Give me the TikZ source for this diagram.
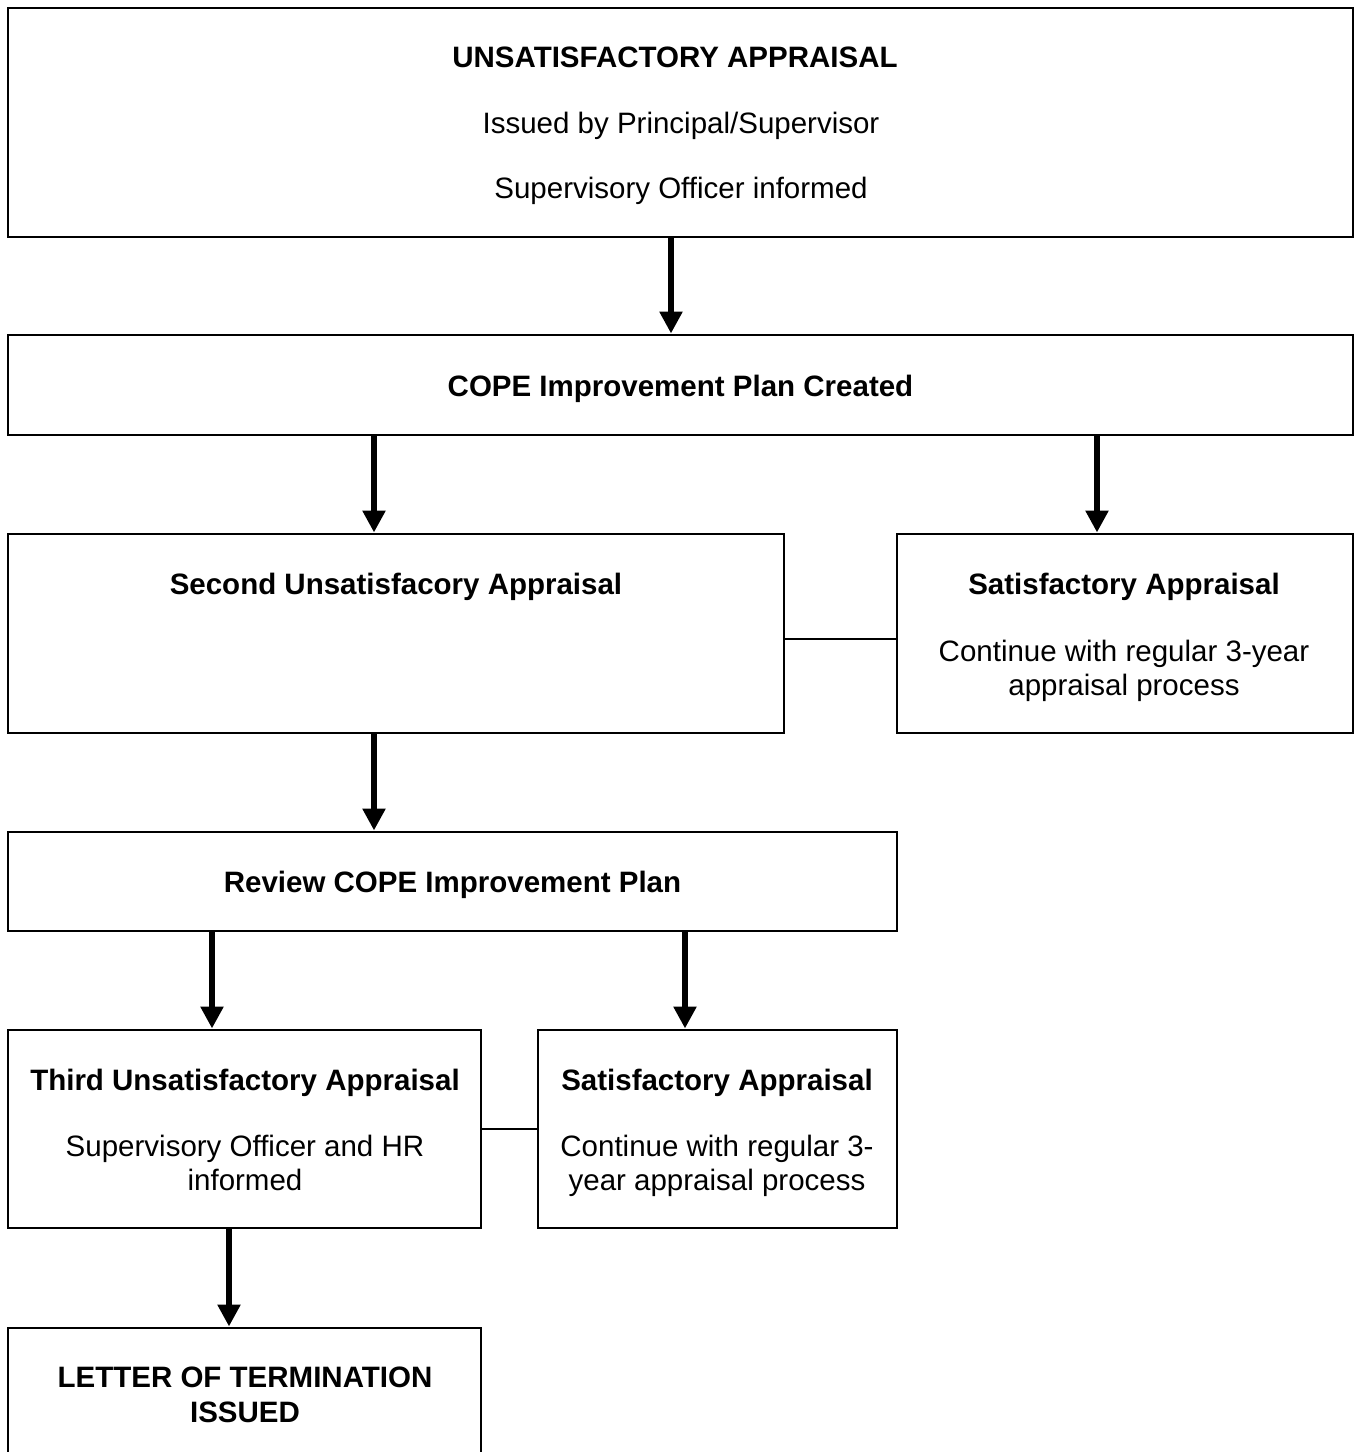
\documentclass[tikz,border=0pt]{standalone}
\usepackage{fontspec}
\setmainfont{Liberation Sans}
\usetikzlibrary{arrows.meta}
\begin{document}
\begin{tikzpicture}[x=1pt,y=-1pt,
  box/.style={draw=black,line width=2.6pt,rectangle,inner sep=0pt,outer sep=0pt},
  txt/.style={anchor=base,inner sep=0pt,font=\fontsize{29.5}{34}\selectfont},
  btxt/.style={txt,font=\fontsize{29.5}{34}\selectfont\bfseries},
  arr/.style={line width=6pt,-{Triangle[width=22pt,length=22pt]},shorten >=1.5pt},
  link/.style={line width=2.4pt}]
\useasboundingbox (0,0) rectangle (1356,1452);
% boxes
\node[box,minimum width=1345pt,minimum height=229pt] (top) at (680.5,122.5) {};
\node[box,minimum width=1345pt,minimum height=100pt] (cope) at (680.5,385) {};
\node[box,minimum width=776pt,minimum height=199pt] (second) at (396,633.5) {};
\node[box,minimum width=456pt,minimum height=199pt] (sat1) at (1125,633.5) {};
\node[box,minimum width=889pt,minimum height=99pt] (review) at (452.5,881.5) {};
\node[box,minimum width=473pt,minimum height=198pt] (third) at (244.5,1129) {};
\node[box,minimum width=359pt,minimum height=198pt] (sat2) at (717.5,1129) {};
\node[box,minimum width=473pt,minimum height=142pt] (letter) at (244.5,1399) {};
% texts
\node[btxt] (t1) at (675,67) {UNSATISFACTORY APPRAISAL};
\node[txt] (t2) at (681,133) {Issued by Principal/Supervisor};
\node[txt] (t3) at (681,198) {Supervisory Officer informed};
\node[btxt] (t4) at (680.5,396) {COPE Improvement Plan Created};
\node[btxt] (t5) at (396,594) {Second Unsatisfacory Appraisal};
\node[btxt] (t6) at (1124,594) {Satisfactory Appraisal};
\node[txt] (t7) at (1124,661) {Continue with regular 3-year};
\node[txt] (t8) at (1124,695) {appraisal process};
\node[btxt] (t9) at (452.5,892) {Review COPE Improvement Plan};
\node[btxt] (t10) at (245,1090) {Third Unsatisfactory Appraisal};
\node[txt] (t11) at (245,1156) {Supervisory Officer and HR};
\node[txt] (t12) at (245,1190) {informed};
\node[btxt] (t13) at (717,1090) {Satisfactory Appraisal};
\node[txt] (t14) at (717,1156) {Continue with regular 3-};
\node[txt] (t15) at (717,1190) {year appraisal process};
\node[btxt] (t16) at (245,1387) {LETTER OF TERMINATION};
\node[btxt] (t17) at (245,1422) {ISSUED};
% arrow x positions
\coordinate (x1) at (671,0);
\coordinate (x2) at (374,0);
\coordinate (x3) at (1097,0);
\coordinate (x5) at (212,0);
\coordinate (x6) at (685,0);
\coordinate (x7) at (229,0);
\coordinate (y1) at (0,639);
% arrows
\draw[arr] (top.south -| x1) -- (cope.north -| x1);
\draw[arr] (cope.south -| x2) -- (second.north -| x2);
\draw[arr] (cope.south -| x3) -- (sat1.north -| x3);
\draw[arr] (second.south -| x2) -- (review.north -| x2);
\draw[arr] (review.south -| x5) -- (third.north -| x5);
\draw[arr] (review.south -| x6) -- (sat2.north -| x6);
\draw[arr] (third.south -| x7) -- (letter.north -| x7);
% links
\draw[link] (second.east |- y1) -- (sat1.west |- y1);
\draw[link] (third.east) -- (sat2.west);
\end{tikzpicture}
\end{document}
